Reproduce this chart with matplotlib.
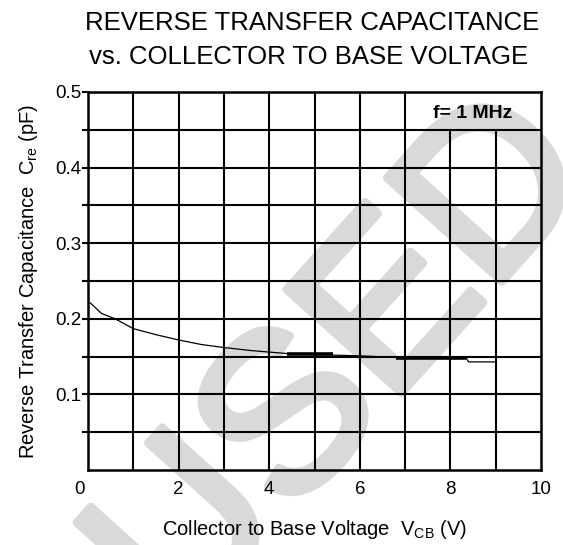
import matplotlib.pyplot as plt
import matplotlib.transforms as mtransforms
import matplotlib.patheffects as pe

plt.rcParams['font.family'] = ['Liberation Sans', 'DejaVu Sans']

# curve
vcb = [0.05, 0.3, 0.6, 1.0, 1.5, 2.0, 2.5, 3.0, 3.6, 4.4, 5.4, 6.0, 6.8, 7.5, 8.35, 8.4, 9.0]
cre = [0.221, 0.207, 0.200, 0.187, 0.179, 0.172, 0.166, 0.162, 0.158, 0.154, 0.152, 0.151,
       0.149, 0.148, 0.148, 0.143, 0.143]
# heavier stretches of the trace
thick_x = [[4.4, 5.4], [6.8, 8.35]]
thick_y = [[0.153, 0.153], [0.148, 0.148]]

xticks = [0, 2, 4, 6, 8, 10]
xlabels = ["0", "2", "4", "6", "8", "10"]
yticks = [0.1, 0.2, 0.3, 0.4, 0.5]
ylabels = ["0.1", "0.2", "0.3", "0.4", "0.5"]
xgrid = [1, 2, 3, 4, 5, 6, 7, 8, 9]
ygrid = [0.05, 0.1, 0.15, 0.2, 0.25, 0.3, 0.35, 0.4, 0.45]

fig = plt.figure(figsize=(5.63, 5.45), dpi=100)
ax = fig.add_axes([0.1563, 0.1376, 0.8047, 0.6936])
ax.set_xlim(0, 10)
ax.set_ylim(0, 0.5)

# watermark
ax.text(0.615, 0.325, "USED", transform=fig.transFigure, rotation=48, fontsize=162,
        color="#d9d9d9", ha="center", va="center", clip_on=False, zorder=0,
        path_effects=[pe.withStroke(linewidth=6, foreground="#d9d9d9")])

# grid, with the top-right cell left open for the label
for g in xgrid:
    top = 0.45 if g in (8, 9) else 0.5
    ax.vlines(g, 0, top, color="black", lw=1.5, zorder=2)
for g in ygrid:
    ax.hlines(g, 0, 10, color="black", lw=1.5, zorder=2)

ax.plot(vcb, cre, color="black", lw=0.9, zorder=3)
for xs, ys in zip(thick_x, thick_y):
    ax.plot(xs, ys, color="black", lw=2.6, zorder=3, solid_capstyle="butt")

ax.text(8.5, 0.472, "f= 1 MHz", fontsize=14, fontweight="bold", ha="center", va="center", zorder=4)

for s in ax.spines.values():
    s.set_linewidth(1.8)
    s.set_zorder(4)
ax.set_xticks(xticks)
ax.set_xticklabels(xlabels, fontsize=13.5)
ax.set_yticks(ygrid + [0.5])
ax.set_yticklabels(["" if round(v, 2) not in yticks else ylabels[yticks.index(round(v, 2))]
                    for v in ygrid + [0.5]], fontsize=13.5)
ax.tick_params(axis="x", length=0, pad=8)
ax.tick_params(axis="y", length=4, width=1.5, pad=1)
ax.patch.set_alpha(0)

# the "0" sits a little left of the corner
off = mtransforms.ScaledTranslation(-8 / 100, 0, fig.dpi_scale_trans)
lab0 = ax.get_xticklabels()[0]
lab0.set_transform(lab0.get_transform() + off)

ax.set_xlabel("Collector to Base Voltage  V$_{\\mathregular{CB}}$ (V)", fontsize=14.5, labelpad=14)
ax.set_ylabel("Reverse Transfer Capacitance  C$_{\\mathregular{re}}$ (pF)", fontsize=14.5, labelpad=11)

fig.text(0.555, 0.958, "REVERSE TRANSFER CAPACITANCE", fontsize=18.5, ha="center", va="center")
fig.text(0.548, 0.896, "vs. COLLECTOR TO BASE VOLTAGE", fontsize=18.5, ha="center", va="center")

fig.savefig("out.png", dpi=100, facecolor="white")
